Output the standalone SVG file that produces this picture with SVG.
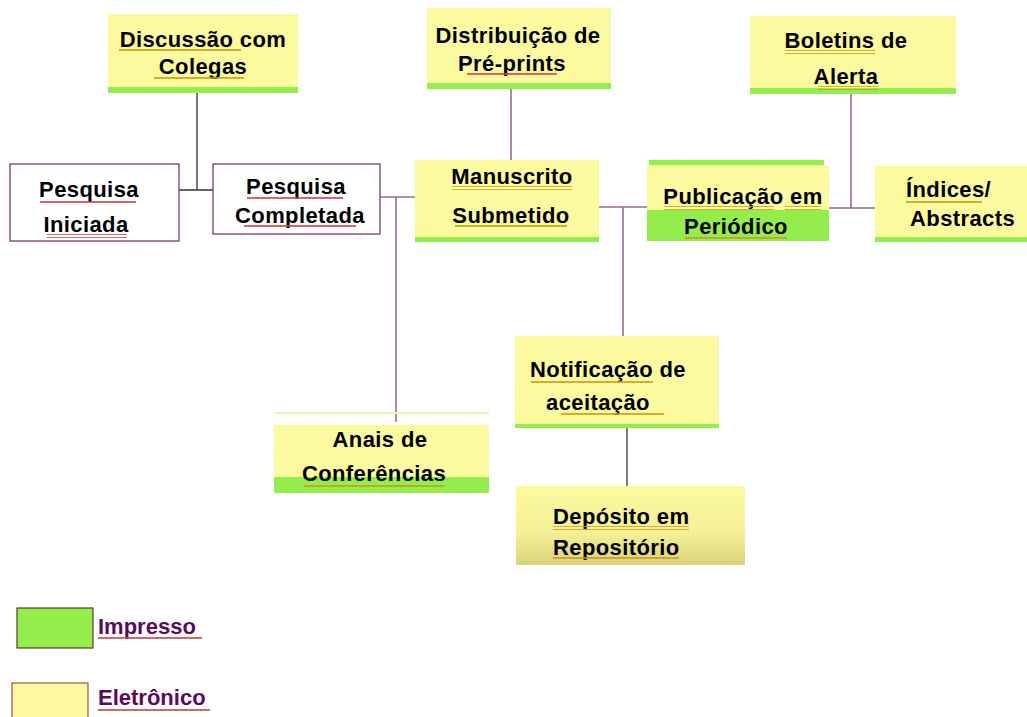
<svg xmlns="http://www.w3.org/2000/svg" width="1027" height="717" viewBox="0 0 1027 717">
<defs>
<style>
.y{fill:#fbfa9e}
.g{fill:#93ee4c}
.w{fill:#ffffff;stroke:#7a3a6e;stroke-width:1.3}
.t{font-family:"Liberation Sans",Arial,sans-serif;font-weight:bold;font-size:22px;letter-spacing:0.4px;fill:#000}
.lt{font-family:"Liberation Sans",Arial,sans-serif;font-weight:bold;font-size:22px;fill:#5a0a5a}
.c{stroke:#9a6a96;stroke-width:1.6;fill:none}
.cd{stroke:#333;stroke-width:1.3;fill:none}
.sr{fill:url(#sqr)}
.sg{fill:url(#sqg)}
</style>
<pattern id="sqr" width="4" height="4" patternUnits="userSpaceOnUse"><path d="M0 3 L1 1 L2 3 L3 1 L4 3" stroke="#c84040" stroke-width="1" fill="none"/></pattern>
<pattern id="sqg" width="4" height="4" patternUnits="userSpaceOnUse"><path d="M0 3 L1 1 L2 3 L3 1 L4 3" stroke="#c89a10" stroke-width="1" fill="none"/></pattern>
<linearGradient id="dep" x1="0" y1="0" x2="0" y2="1"><stop offset="0" stop-color="#fbfa9e"/><stop offset="0.6" stop-color="#f5f095"/><stop offset="1" stop-color="#d9d27a"/></linearGradient>
</defs>
<rect width="1027" height="717" fill="#ffffff"/>
<g id="connectors">
<path class="cd" d="M197 93 V190 M179 190 H213"/>
<path class="c" d="M380 197 H415 M396 197 V422"/>
<path class="c" d="M511 89 V160"/>
<path class="c" d="M599 207 H647 M623 207 V336"/>
<path class="c" d="M829 208 H875 M851 94 V208"/>
<path class="cd" d="M627 428 V486"/>
</g>
<g id="discussao">
<rect class="y" x="108" y="14" width="190" height="79"/>
<rect class="g" x="108" y="87" width="190" height="6"/>
<text class="t" x="203" y="47" text-anchor="middle">Discussão com</text>
<text class="t" x="203" y="74" text-anchor="middle">Colegas</text>
<rect class="sg" x="119" y="49" width="122" height="4"/>
<rect class="sg" x="154" y="76" width="90" height="4"/>
</g>
<g id="distribuicao">
<rect class="y" x="427" y="8" width="184" height="81"/>
<rect class="g" x="427" y="83" width="184" height="6"/>
<text class="t" x="518" y="43" text-anchor="middle">Distribuição de</text>
<text class="t" x="512" y="71" text-anchor="middle">Pré-prints</text>
<rect class="sr" x="467" y="73" width="90" height="4"/>
</g>
<g id="boletins">
<rect class="y" x="750" y="16" width="206" height="78"/>
<rect class="g" x="750" y="88" width="206" height="6"/>
<text class="t" x="846" y="48" text-anchor="middle">Boletins de</text>
<text class="t" x="846" y="84" text-anchor="middle">Alerta</text>
<rect class="sg" x="785" y="50" width="90" height="4"/>
<rect class="sg" x="818" y="86" width="60" height="4"/>
</g>
<g id="pesquisa-iniciada">
<rect class="w" x="10" y="164" width="169" height="77"/>
<text class="t" x="89" y="197" text-anchor="middle">Pesquisa</text>
<text class="t" x="86" y="232" text-anchor="middle">Iniciada</text>
<rect class="sr" x="40" y="199" width="96" height="4"/>
<rect class="sr" x="47" y="234" width="80" height="4"/>
</g>
<g id="pesquisa-completada">
<rect class="w" x="213" y="164" width="167" height="70"/>
<text class="t" x="296" y="194" text-anchor="middle">Pesquisa</text>
<text class="t" x="300" y="223" text-anchor="middle">Completada</text>
<rect class="sr" x="247" y="196" width="96" height="4"/>
<rect class="sr" x="244" y="225" width="112" height="4"/>
</g>
<g id="manuscrito">
<rect class="y" x="415" y="160" width="184" height="82"/>
<rect class="g" x="415" y="237" width="184" height="5"/>
<text class="t" x="512" y="184" text-anchor="middle">Manuscrito</text>
<text class="t" x="511" y="223" text-anchor="middle">Submetido</text>
<rect class="sg" x="452" y="186" width="120" height="4"/>
<rect class="sg" x="455" y="225" width="112" height="4"/>
</g>
<g id="publicacao">
<rect class="y" x="647" y="165" width="182" height="46"/>
<rect class="g" x="649" y="160" width="175" height="5"/>
<rect class="g" x="647" y="210" width="182" height="31"/>
<text class="t" x="743" y="204" text-anchor="middle">Publicação em</text>
<text class="t" x="736" y="234" text-anchor="middle">Periódico</text>
<rect class="sg" x="664" y="206" width="110" height="4"/>
<rect class="sg" x="785" y="206" width="36" height="4"/>
<rect class="sg" x="685" y="236" width="102" height="4"/>
</g>
<g id="indices">
<rect class="y" x="875" y="166" width="152" height="76"/>
<rect class="g" x="875" y="237" width="152" height="5"/>
<text class="t" x="906" y="197">Índices/</text>
<text class="t" x="910" y="226">Abstracts</text>
<rect class="sg" x="906" y="199" width="76" height="4"/>
</g>
<g id="anais">
<rect x="274" y="412" width="215" height="2" fill="#f3f0b0"/>
<rect class="y" x="274" y="425" width="215" height="53"/>
<rect class="g" x="274" y="477" width="215" height="16"/>
<text class="t" x="380" y="447" text-anchor="middle">Anais de</text>
<text class="t" x="374" y="481" text-anchor="middle">Conferências</text>
<rect class="sg" x="304" y="483" width="140" height="4"/>
</g>
<g id="notificacao">
<rect class="y" x="515" y="336" width="204" height="92"/>
<rect class="g" x="515" y="424" width="204" height="4"/>
<text class="t" x="608" y="377" text-anchor="middle">Notificação de</text>
<text class="t" x="598" y="410" text-anchor="middle">aceitação</text>
<rect class="sg" x="531" y="379" width="122" height="4"/>
<rect class="sg" x="561" y="412" width="103" height="4"/>
</g>
<g id="deposito">
<rect x="516" y="486" width="229" height="79" fill="url(#dep)"/>
<text class="t" x="553" y="524">Depósito em</text>
<text class="t" x="553" y="555">Repositório</text>
<rect class="sg" x="553" y="526" width="136" height="4"/>
<rect class="sg" x="553" y="557" width="126" height="4"/>
</g>
<g id="legend">
<rect x="17" y="608" width="76" height="40" fill="#93ee4c" stroke="#5a3a2a" stroke-width="1.2"/>
<text class="lt" x="98" y="634">Impresso</text>
<rect class="sr" x="98" y="637" width="104" height="4"/>
<rect x="12" y="683" width="76" height="40" fill="#fdfaa0" stroke="#8a5a4a" stroke-width="1.2"/>
<text class="lt" x="98" y="705">Eletrônico</text>
<rect class="sr" x="98" y="708" width="112" height="4"/>
</g>
</svg>
